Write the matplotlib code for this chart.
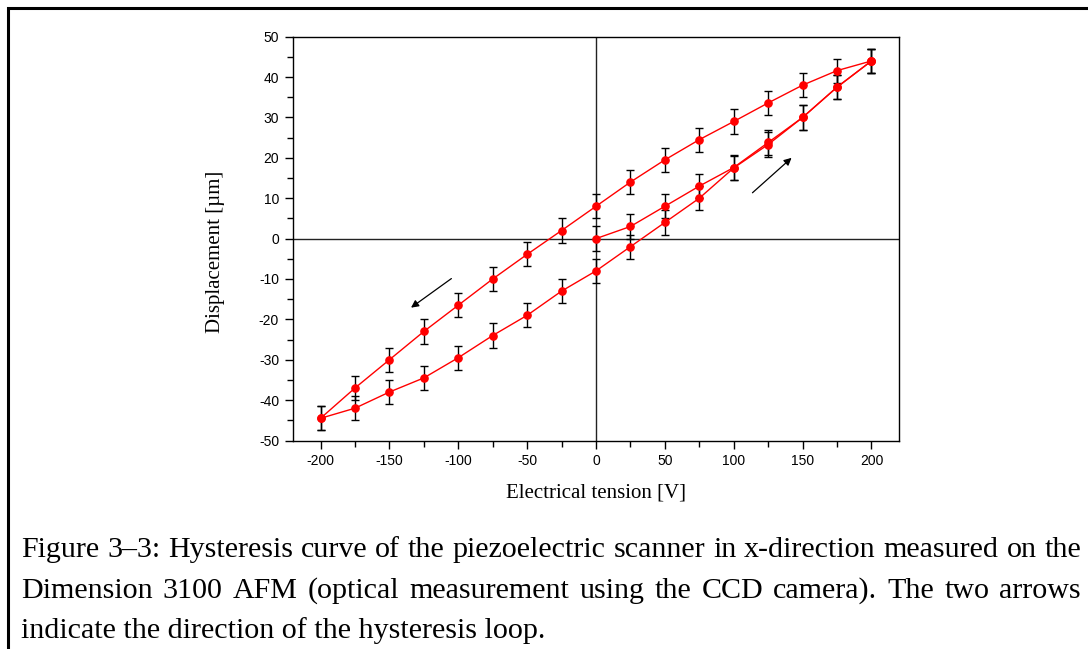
import matplotlib
matplotlib.use("Agg")
import matplotlib.pyplot as plt
from matplotlib.ticker import MultipleLocator
from matplotlib.patches import Rectangle

plt.rcParams["axes.unicode_minus"] = False

# Applied voltage steps [V]
v_initial = [0, 25, 50, 75, 100, 125, 150, 175, 200]
v_down = [200, 175, 150, 125, 100, 75, 50, 25, 0, -25, -50, -75, -100, -125, -150, -175, -200]
v_up = [-200, -175, -150, -125, -100, -75, -50, -25, 0, 25, 50, 75, 100, 125, 150, 175, 200]

# Measured displacement [um]
d_initial = [0, 3, 8, 13, 17.6, 23.8, 30, 37.5, 44]
d_down = [44, 41.6, 38, 33.6, 29, 24.5, 19.5, 14, 8, 2, -3.9, -10, -16.5, -23, -30, -37, -44.5]
d_up = [-44.5, -42, -38, -34.5, -29.5, -24, -19, -13, -8, -2, 4, 10, 17.5, 23.3, 30, 37.5, 44]

# Measurement uncertainty [um]
err = 3.0

W, H = 1088, 649
fig = plt.figure(figsize=(W / 100, H / 100), dpi=100)

ax = fig.add_axes([293 / W, 1 - 440.5 / H, (899 - 293) / W, (440.5 - 36.7) / H])

for v, d in [(v_initial, d_initial), (v_down, d_down), (v_up, d_up)]:
    ax.errorbar(v, d, yerr=err, fmt="none", ecolor="black", elinewidth=1.0,
                capsize=2.6, capthick=1.0, zorder=2)
    ax.plot(v, d, color="#ff0000", lw=1.0, marker="o", markersize=5.2,
            markerfacecolor="#ff0000", markeredgecolor="#ff0000", zorder=3)

ax.axhline(0, color="#222222", lw=1.0, zorder=1)
ax.axvline(0, color="#222222", lw=1.0, zorder=1)

ax.set_xlim(-220, 220)
ax.set_ylim(-50, 50)
ax.xaxis.set_major_locator(MultipleLocator(50))
ax.xaxis.set_minor_locator(MultipleLocator(25))
ax.yaxis.set_major_locator(MultipleLocator(10))
ax.yaxis.set_minor_locator(MultipleLocator(5))
ax.tick_params(which="both", direction="out", top=False, right=False, width=1.0)
ax.tick_params(which="major", length=6, pad=4)
ax.tick_params(which="minor", length=4)
for lab in ax.get_xticklabels() + ax.get_yticklabels():
    lab.set_fontfamily("Liberation Sans")
    lab.set_fontsize(10)
for s in ax.spines.values():
    s.set_linewidth(1.0)
    s.set_color("black")

serif = "Liberation Serif"
ax.set_xlabel("Electrical tension [V]", fontfamily=serif, fontsize=15, labelpad=11)
ax.set_ylabel("Displacement [µm]", fontfamily=serif, fontsize=15)
ax.yaxis.set_label_coords(-0.112, 0.466)

# Direction arrows of the loop
arrow_kw = dict(arrowstyle="-|>", color="black", lw=0.9, mutation_scale=11,
                shrinkA=0, shrinkB=0)
ax.annotate("", xy=(-134.3, -17.1), xytext=(-105, -9.9), arrowprops=arrow_kw)
ax.annotate("", xy=(142, 20), xytext=(113.6, 11.35), arrowprops=arrow_kw)

# Frame around the figure
fig.patches.append(Rectangle((8 / W, -0.05), 1.2, (H - 8) / H + 0.05,
                             transform=fig.transFigure, fill=False,
                             edgecolor="black", lw=2.2))

# Justified caption
caption = [
    ("Figure 3\u20133: Hysteresis curve of the piezoelectric scanner in x-direction measured on the", True),
    ("Dimension 3100 AFM (optical measurement using the CCD camera). The two arrows", True),
    ("indicate the direction of the hysteresis loop.", False),
]
x_left, x_right = 21, 1081
baselines = [557, 598, 638]
fig.canvas.draw()
renderer = fig.canvas.get_renderer()

# font size at which the first line just fills the text block
probe = fig.text(0, 0, caption[0][0], fontfamily=serif, fontsize=10)
w10 = probe.get_window_extent(renderer).width
probe.remove()
cap_size = 10 * (x_right - x_left) / w10 * 0.995

for (line, justify), yb in zip(caption, baselines):
    yf = 1 - yb / H
    if not justify:
        fig.text(x_left / W, yf, line, fontfamily=serif, fontsize=cap_size,
                 ha="left", va="baseline")
        continue
    words = line.split(" ")
    widths = []
    for w in words:
        t = fig.text(0, 0, w, fontfamily=serif, fontsize=cap_size)
        widths.append(t.get_window_extent(renderer).width)
        t.remove()
    gap = (x_right - x_left - sum(widths)) / (len(words) - 1)
    x = x_left
    for w, wd in zip(words, widths):
        fig.text(x / W, yf, w, fontfamily=serif, fontsize=cap_size,
                 ha="left", va="baseline")
        x += wd + gap

fig.savefig("out.png", dpi=100)
